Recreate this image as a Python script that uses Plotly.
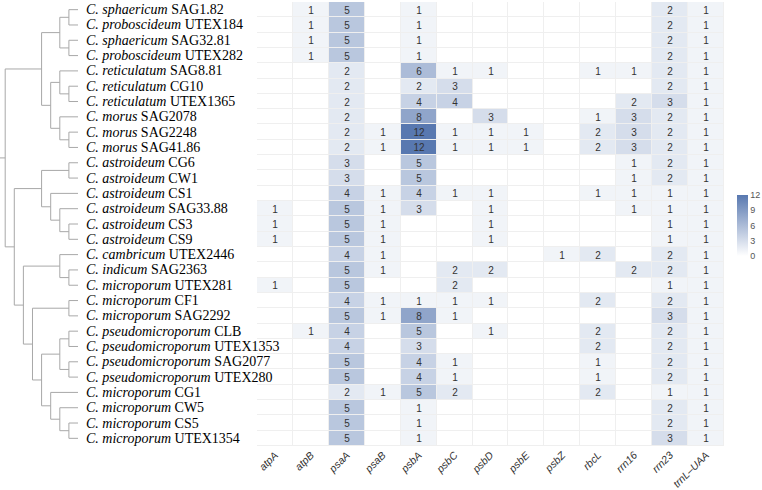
import plotly.graph_objects as go

genes = ["atpA", "atpB", "psaA", "psaB", "psbA", "psbC", "psbD", "psbE", "psbZ",
         "rbcL", "rrn16", "rrn23", "trnL–UAA"]

species = ["C. sphaericum", "C. proboscideum", "C. sphaericum", "C. proboscideum",
           "C. reticulatum", "C. reticulatum", "C. reticulatum",
           "C. morus", "C. morus", "C. morus",
           "C. astroideum", "C. astroideum", "C. astroideum", "C. astroideum",
           "C. astroideum", "C. astroideum",
           "C. cambricum", "C. indicum", "C. microporum", "C. microporum", "C. microporum",
           "C. pseudomicroporum", "C. pseudomicroporum", "C. pseudomicroporum",
           "C. pseudomicroporum",
           "C. microporum", "C. microporum", "C. microporum", "C. microporum"]
strains = ["SAG1.82", "UTEX184", "SAG32.81", "UTEX282",
           "SAG8.81", "CG10", "UTEX1365",
           "SAG2078", "SAG2248", "SAG41.86",
           "CG6", "CW1", "CS1", "SAG33.88", "CS3", "CS9",
           "UTEX2446", "SAG2363", "UTEX281", "CF1", "SAG2292",
           "CLB", "UTEX1353", "SAG2077", "UTEX280",
           "CG1", "CW5", "CS5", "UTEX1354"]

# columns: atpA atpB psaA psaB psbA psbC psbD psbE psbZ rbcL rrn16 rrn23 trnL-UAA
counts = [
    [0, 1, 5, 0, 1, 0, 0, 0, 0, 0, 0, 2, 1],
    [0, 1, 5, 0, 1, 0, 0, 0, 0, 0, 0, 2, 1],
    [0, 1, 5, 0, 1, 0, 0, 0, 0, 0, 0, 2, 1],
    [0, 1, 5, 0, 1, 0, 0, 0, 0, 0, 0, 2, 1],
    [0, 0, 2, 0, 6, 1, 1, 0, 0, 1, 1, 2, 1],
    [0, 0, 2, 0, 2, 3, 0, 0, 0, 0, 0, 2, 1],
    [0, 0, 2, 0, 4, 4, 0, 0, 0, 0, 2, 3, 1],
    [0, 0, 2, 0, 8, 0, 3, 0, 0, 1, 3, 2, 1],
    [0, 0, 2, 1, 12, 1, 1, 1, 0, 2, 3, 2, 1],
    [0, 0, 2, 1, 12, 1, 1, 1, 0, 2, 3, 2, 1],
    [0, 0, 3, 0, 5, 0, 0, 0, 0, 0, 1, 2, 1],
    [0, 0, 3, 0, 5, 0, 0, 0, 0, 0, 1, 2, 1],
    [0, 0, 4, 1, 4, 1, 1, 0, 0, 1, 1, 1, 1],
    [1, 0, 5, 1, 3, 0, 1, 0, 0, 0, 1, 1, 1],
    [1, 0, 5, 1, 0, 0, 1, 0, 0, 0, 0, 1, 1],
    [1, 0, 5, 1, 0, 0, 1, 0, 0, 0, 0, 1, 1],
    [0, 0, 4, 1, 0, 0, 0, 0, 1, 2, 0, 2, 1],
    [0, 0, 5, 1, 0, 2, 2, 0, 0, 0, 2, 2, 1],
    [1, 0, 5, 0, 0, 2, 0, 0, 0, 0, 0, 1, 1],
    [0, 0, 4, 1, 1, 1, 1, 0, 0, 2, 0, 2, 1],
    [0, 0, 5, 1, 8, 1, 0, 0, 0, 0, 0, 3, 1],
    [0, 1, 4, 0, 5, 0, 1, 0, 0, 2, 0, 2, 1],
    [0, 0, 4, 0, 3, 0, 0, 0, 0, 2, 0, 2, 1],
    [0, 0, 5, 0, 4, 1, 0, 0, 0, 1, 0, 2, 1],
    [0, 0, 5, 0, 4, 1, 0, 0, 0, 1, 0, 2, 1],
    [0, 0, 2, 1, 5, 2, 0, 0, 0, 2, 0, 1, 1],
    [0, 0, 5, 0, 1, 0, 0, 0, 0, 0, 0, 2, 1],
    [0, 0, 5, 0, 1, 0, 0, 0, 0, 0, 0, 2, 1],
    [0, 0, 5, 0, 1, 0, 0, 0, 0, 0, 0, 3, 1],
]

# dendrogram topology: (height, left, right); leaves are row indices
tree = (8,
        (4,
         (2, (1, 0, 1), (1, 2, 3)),
         (3, (2, 4, (1, 5, 6)), (2, 7, (1, 8, 9)))),
        (7,
         (4, (1, 10, 11), (3, 12, (2, 13, (1, 14, 15)))),
         (6,
          (2, 16, (1, 17, 18)),
          (5, (1, 19, 20),
           (4, (2, (1, 21, 22), (1, 23, 24)),
            (3, 25, (2, 26, (1, 27, 28))))))))
root_stub = 8.57

W, H = 762, 490
ML, MR, MT, MB = 0, 0, 2, 44
heat_x0, heat_x1 = 257, 724
label_x = 84
dendro_x1 = 78

# dendrogram line segments
xs, ys = [], []


def walk(node):
    if isinstance(node, int):
        return 0.0, float(node)
    h, l, r = node
    lh, ly = walk(l)
    rh, ry = walk(r)
    xs.extend([lh, h, h, rh, None])
    ys.extend([ly, ly, ry, ry, None])
    return h, (ly + ry) / 2


rh, ry = walk(tree)
xs.extend([rh, root_stub, None])
ys.extend([ry, ry, None])

text = [[("" if v == 0 else str(v)) for v in row] for row in counts]
rows = list(range(len(strains)))

fig = go.Figure()
fig.add_trace(go.Heatmap(
    z=counts, x=list(range(len(genes))), y=rows,
    text=text, texttemplate="%{text}",
    textfont=dict(size=10, color="#333333", family="Liberation Sans, Arial"),
    colorscale=[[0, "#ffffff"], [1, "#5878b0"]], zmin=0, zmax=12,
    xgap=1, ygap=1,
    colorbar=dict(x=737 / W, xanchor="left", xpad=0, y=(446 - 225.5) / 444,
                  yanchor="middle", ypad=0, len=61 / 444, lenmode="fraction",
                  thickness=11, outlinewidth=0, tickvals=[0, 3, 6, 9, 12],
                  ticks="", tickfont=dict(size=9, color="#555555",
                                          family="Liberation Sans, Arial")),
    hoverinfo="skip",
))
fig.add_trace(go.Scatter(
    x=xs, y=ys, mode="lines", xaxis="x2", yaxis="y",
    line=dict(color="#a8a8a8", width=1), hoverinfo="skip", showlegend=False,
))

annotations = []
for i, (sp, st) in enumerate(zip(species, strains)):
    annotations.append(dict(
        x=label_x / W, xref="paper", y=i, yref="y", xanchor="left",
        yanchor="middle", showarrow=False,
        text=f"<i>{sp}</i> {st}",
        font=dict(family="Liberation Serif, Times New Roman", size=14, color="#000000"),
    ))

fig.update_layout(
    width=W, height=H,
    margin=dict(l=ML, r=MR, t=MT, b=MB),
    paper_bgcolor="white", plot_bgcolor="white",
    showlegend=False,
    xaxis=dict(domain=[heat_x0 / W, heat_x1 / W], range=[-0.5, len(genes) - 0.5],
               tickvals=list(range(len(genes))),
               ticktext=[f"<i>{g}</i>" for g in genes],
               tickangle=-45, ticks="", showgrid=False, zeroline=False,
               showline=False, automargin=False,
               tickfont=dict(size=10.5, color="#333333", family="Liberation Sans, Arial")),
    yaxis=dict(domain=[0, 1], range=[len(strains) - 0.5, -0.5], showticklabels=False,
               showgrid=False, zeroline=False, ticks="", automargin=False),
    xaxis2=dict(domain=[0, dendro_x1 / W], range=[root_stub, 0], visible=False,
                anchor="y", automargin=False),
    shapes=[dict(type="rect", xref="x domain", yref="y domain", x0=0, x1=1,
                 y0=0, y1=1, fillcolor="#efefef", line=dict(width=0), layer="below")],
    annotations=annotations,
)

fig.write_html("out.html")
